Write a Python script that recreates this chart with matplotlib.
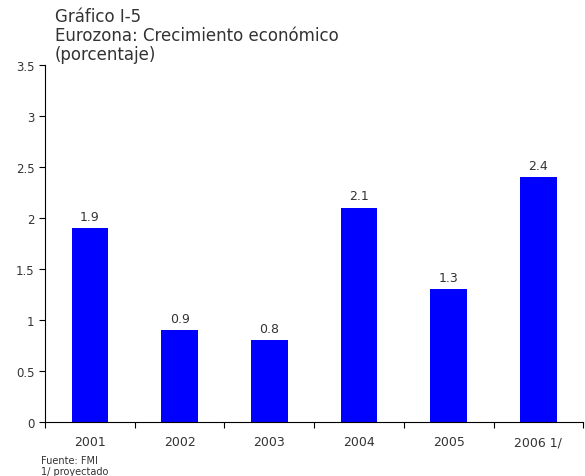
import matplotlib.pyplot as plt
import matplotlib.transforms as mtransforms
import numpy as np

years = ['2001', '2002', '2003', '2004', '2005', '2006 1/']
growth = [1.9, 0.9, 0.8, 2.1, 1.3, 2.4]
yticks = [0, 0.5, 1, 1.5, 2, 2.5, 3, 3.5]
ytick_labels = ['0', '0.5', '1', '1.5', '2', '2.5', '3', '3.5']

txt = '#333333'
fig = plt.figure(figsize=(5.85, 4.77), dpi=100)
ax = fig.add_axes([0.077, 0.113, 0.92, 0.749])

x = np.arange(len(years))
ax.bar(x, growth, width=0.41, color='#0000ff')
for xi, v in zip(x, growth):
    ax.annotate('%.1f' % v, (xi, v), xytext=(0, 4), textcoords='offset points',
                ha='center', va='bottom', fontsize=9, color=txt)

ax.set_xlim(-0.5, len(years) - 0.5)
ax.set_ylim(0, 3.5)
ax.set_yticks(yticks)
ax.set_yticklabels(ytick_labels)
ax.tick_params(axis='y', length=4, width=0.8, labelsize=8.5, labelcolor=txt)

# ticks sit between categories, year labels on the baseline below
ax.set_xticks(np.arange(len(years) + 1) - 0.5)
ax.set_xticklabels([])
ax.tick_params(axis='x', length=4, width=0.8, direction='out')
trans = mtransforms.blended_transform_factory(ax.transData, ax.transAxes)
off = mtransforms.offset_copy(trans, fig=fig, y=-16.5, units='points')
for xi, lab in zip(x, years):
    ax.text(xi, 0, lab, transform=off, ha='center', va='baseline',
            fontsize=9, color=txt)

for s in ['top', 'right']:
    ax.spines[s].set_visible(False)
ax.spines['left'].set_linewidth(0.8)
ax.spines['bottom'].set_linewidth(0.8)

fig.text(0.094, 0.965, 'Gráfico I-5', fontsize=12, color=txt, va='center')
fig.text(0.094, 0.925, 'Eurozona: Crecimiento económico', fontsize=12, color=txt, va='center')
fig.text(0.094, 0.884, '(porcentaje)', fontsize=12, color=txt, va='center')
fig.text(0.07, 0.034, 'Fuente: FMI', fontsize=7, color=txt, va='center')
fig.text(0.07, 0.010, '1/ proyectado', fontsize=7, color=txt, va='center')

fig.savefig('out.png', dpi=100)
